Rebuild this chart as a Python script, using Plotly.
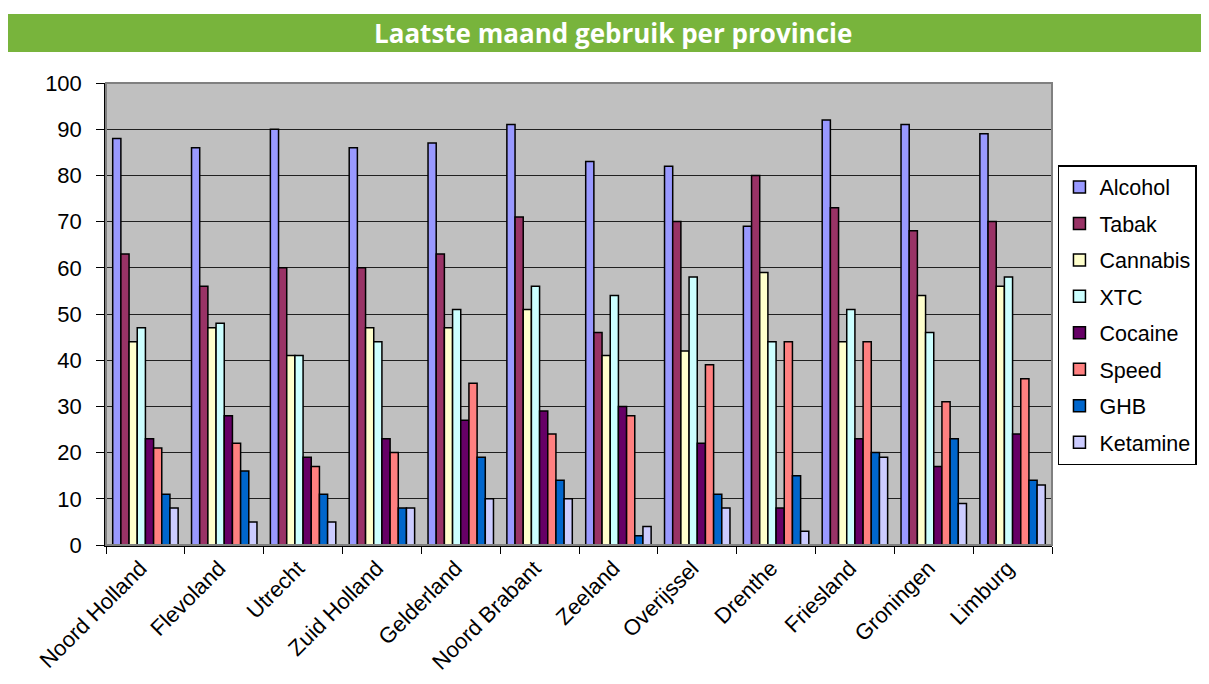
import plotly.graph_objects as go

provinces = ["Noord Holland", "Flevoland", "Utrecht", "Zuid Holland", "Gelderland",
             "Noord Brabant", "Zeeland", "Overijssel", "Drenthe", "Friesland",
             "Groningen", "Limburg"]

alcohol  = [88, 86, 90, 86, 87, 91, 83, 82, 69, 92, 91, 89]
tabak    = [63, 56, 60, 60, 63, 71, 46, 70, 80, 73, 68, 70]
cannabis = [44, 47, 41, 47, 47, 51, 41, 42, 59, 44, 54, 56]
xtc      = [47, 48, 41, 44, 51, 56, 54, 58, 44, 51, 46, 58]
cocaine  = [23, 28, 19, 23, 27, 29, 30, 22, 8, 23, 17, 24]
speed    = [21, 22, 17, 20, 35, 24, 28, 39, 44, 44, 31, 36]
ghb      = [11, 16, 11, 8, 19, 14, 2, 11, 15, 20, 23, 14]
ketamine = [8, 5, 5, 8, 10, 10, 4, 8, 3, 19, 9, 13]

series = [
    ("Alcohol", alcohol, "#9999ff"),
    ("Tabak", tabak, "#993366"),
    ("Cannabis", cannabis, "#ffffcc"),
    ("XTC", xtc, "#ccffff"),
    ("Cocaine", cocaine, "#660066"),
    ("Speed", speed, "#ff8080"),
    ("GHB", ghb, "#0066cc"),
    ("Ketamine", ketamine, "#ccccff"),
]

fig = go.Figure()
for name, vals, col in series:
    fig.add_trace(go.Bar(name=name, x=provinces, y=vals, legendgroup=name,
                         marker=dict(color=col, line=dict(color="#000000", width=1.5))))

fig.update_layout(
    width=1201, height=676,
    margin=dict(l=98, r=157, t=75, b=139, autoexpand=False),
    paper_bgcolor="white",
    plot_bgcolor="#c0c0c0",
    barmode="group",
    bargap=0.17, bargroupgap=0,
    font=dict(family="Liberation Sans, Arial", size=22, color="black"),
    showlegend=True,
    legend=dict(x=1.0063, y=0.8225, xanchor="left", yanchor="top",
                bgcolor="white", bordercolor="black", borderwidth=1.5,
                font=dict(size=21.5), tracegroupgap=5.5, itemwidth=30),
    shapes=[
        dict(type="rect", xref="paper", yref="paper",
             x0=-0.1036, x1=1.17, y0=1.0671, y1=1.1494,
             fillcolor="#78b43c", line=dict(width=0), layer="below"),
        dict(type="rect", xref="paper", yref="paper",
             x0=0, x1=1, y0=0, y1=1,
             fillcolor="rgba(0,0,0,0)", line=dict(color="#808080", width=2)),
    ],
    annotations=[
        dict(text="<b>Laatste maand gebruik per provincie</b>", xref="paper", yref="paper",
             x=0.536, y=1.108, xanchor="center", yanchor="middle", showarrow=False,
             font=dict(family="Open Sans", size=26, color="white")),
    ],
)

fig.update_xaxes(showline=True, linecolor="black", linewidth=1.5, mirror=False,
                 ticks="outside", tickson="boundaries", ticklen=7, tickcolor="black",
                 tickangle=-45, tickfont=dict(size=22), ticklabelshift=-5,
                 showgrid=False, automargin=False)
fig.update_yaxes(range=[0, 100], dtick=10, showgrid=True, gridcolor="#202020", gridwidth=1.2,
                 showline=True, linecolor="black", linewidth=1.5,
                 ticks="outside", ticklen=8, tickcolor="black", tickfont=dict(size=22),
                 ticklabelstandoff=10, zeroline=False, automargin=False)

fig.write_html("out.html")
